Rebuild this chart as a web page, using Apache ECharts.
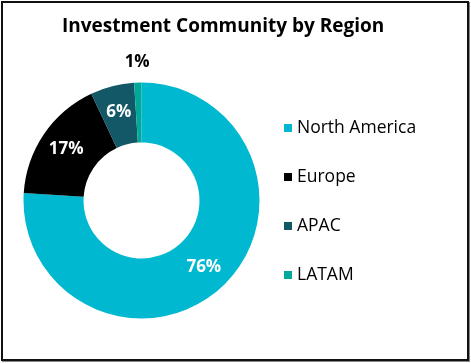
<!DOCTYPE html>
<html><head><meta charset="utf-8">
<script src="https://cdn.jsdelivr.net/npm/echarts@6/dist/echarts.min.js"></script>
<style>
html,body{margin:0;padding:0;background:#fff;}
#wrap{position:relative;width:471px;height:363px;overflow:hidden;}
#main{position:absolute;left:0;top:0;width:471px;height:363px;}
#frame{position:absolute;left:1px;top:1px;width:468px;height:360px;box-sizing:border-box;border:2px solid #111;box-shadow:1px 1px 0 #888;pointer-events:none;}
</style></head>
<body><div id="wrap"><div id="main"></div><div id="frame"></div></div>
<script>
const titleText = 'Investment Community by Region';
const regions = ['North America', 'Europe', 'APAC', 'LATAM'];
const shares = [76, 17, 6, 1];
const colors = ['#00B8D0', '#000000', '#135866', '#00A99A'];

const chart = echarts.init(document.getElementById('main'), null, {renderer: 'canvas'});
const FONT = 'Open Sans';
const data = regions.map((name, i) => {
  const item = {name: name, value: shares[i], itemStyle: {color: colors[i]}};
  if (i === 3) {
    item.label = {position: 'outside', color: '#000'};
    item.labelLine = {show: false, length: 20, length2: 0};
  }
  return item;
});
chart.setOption({
  animation: false,
  backgroundColor: '#fff',
  title: {
    text: titleText, left: 57, top: 12,
    textStyle: {fontFamily: FONT, fontWeight: 'bold', fontSize: 19, color: '#000'}
  },
  legend: {
    orient: 'vertical', left: 279, top: 114,
    itemWidth: 8, itemHeight: 8, itemGap: 31, icon: 'rect',
    data: regions,
    textStyle: {fontFamily: FONT, fontSize: 17.5, color: '#000'}
  },
  series: [{
    type: 'pie',
    center: [141.5, 200.5],
    radius: [58, 118],
    startAngle: 90,
    clockwise: true,
    avoidLabelOverlap: false,
    data: data,
    label: {
      show: true, position: 'inside', formatter: '{c}%',
      fontFamily: FONT, fontWeight: 'bold', fontSize: 17, color: '#fff',
      distanceToLabelLine: 0
    },
    labelLine: {show: false},
    labelLayout: function (p) { return p.dataIndex === 3 ? {align: 'center'} : {}; },
    emphasis: {disabled: true}
  }]
});
</script></body></html>
